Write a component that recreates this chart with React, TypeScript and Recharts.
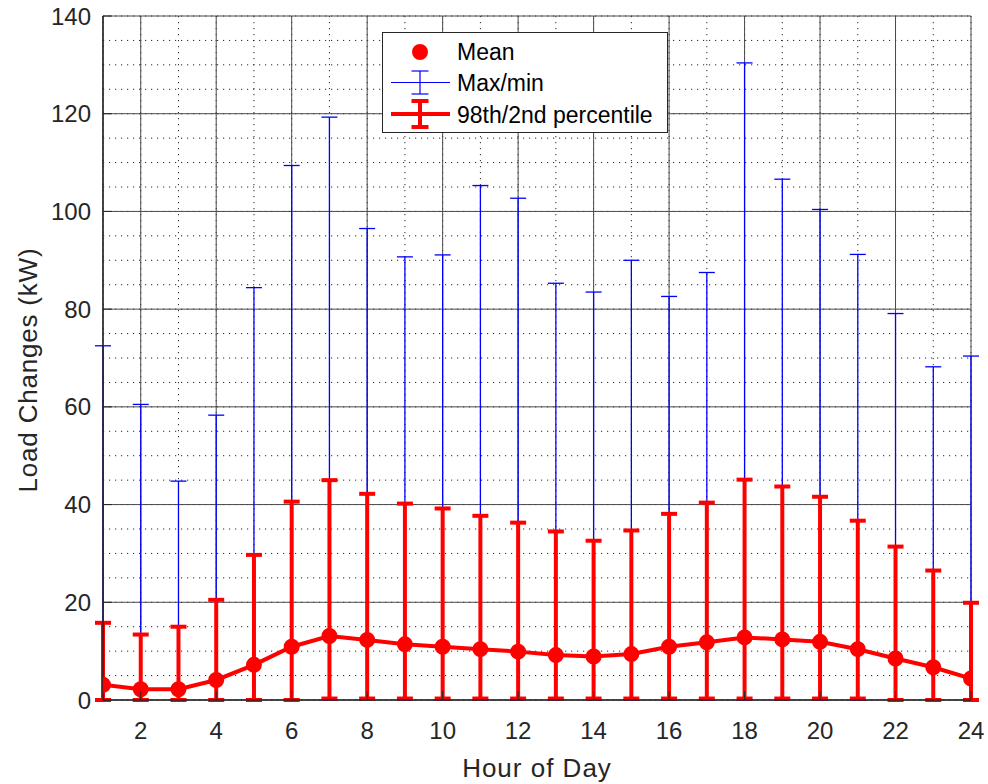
import React from 'react';
import { ComposedChart, Line, XAxis, YAxis, CartesianGrid, ErrorBar, Legend } from 'recharts';

// ---------------- data ----------------
const hours = [1, 2, 3, 4, 5, 6, 7, 8, 9, 10, 11, 12, 13, 14, 15, 16, 17, 18, 19, 20, 21, 22, 23, 24];
const meanVals = [3.1, 2.2, 2.2, 4.1, 7.2, 10.9, 13.1, 12.3, 11.4, 10.9, 10.4, 9.9, 9.2, 8.9, 9.4, 10.9, 11.8, 12.8, 12.4, 11.9, 10.4, 8.5, 6.7, 4.4];
const maxVals = [72.5, 60.5, 44.8, 58.3, 84.4, 109.4, 119.3, 96.5, 90.7, 91.1, 105.3, 102.7, 85.3, 83.5, 90.0, 82.6, 87.5, 130.4, 106.6, 100.4, 91.2, 79.1, 68.2, 70.4];
const minVals = [0, 0, 0, 0, 0, 0, 0, 0, 0, 0, 0, 0, 0, 0, 0, 0, 0, 0, 0, 0, 0, 0, 0, 0];
const p98Vals = [15.8, 13.4, 15.0, 20.5, 29.7, 40.6, 45.0, 42.2, 40.2, 39.2, 37.7, 36.3, 34.5, 32.6, 34.7, 38.1, 40.4, 45.1, 43.7, 41.6, 36.7, 31.4, 26.5, 19.9];
const p2Vals = [0, 0, 0, 0, 0, 0, 0.3, 0.3, 0.3, 0.3, 0.3, 0.3, 0.3, 0.3, 0.3, 0.3, 0.3, 0.3, 0.3, 0.3, 0.3, 0, 0, 0];

const xTicks = [2, 4, 6, 8, 10, 12, 14, 16, 18, 20, 22, 24];
const yTicks = [0, 20, 40, 60, 80, 100, 120, 140];
const xMinorTicks = [1, 1.5, 2, 2.5, 3, 3.5, 4, 4.5, 5, 5.5, 6, 6.5, 7, 7.5, 8, 8.5, 9, 9.5, 10, 10.5, 11, 11.5, 12, 12.5, 13, 13.5, 14, 14.5, 15, 15.5, 16, 16.5, 17, 17.5, 18, 18.5, 19, 19.5, 20, 20.5, 21, 21.5, 22, 22.5, 23, 23.5, 24];
const yMinorTicks = [0, 5, 10, 15, 20, 25, 30, 35, 40, 45, 50, 55, 60, 65, 70, 75, 80, 85, 90, 95, 100, 105, 110, 115, 120, 125, 130, 135, 140];

const legendLabels = ['Mean', 'Max/min', '98th/2nd percentile'];
const xLabel = 'Hour of Day';
const yLabel = 'Load Changes (kW)';

const data = hours.map((h, i) => ({
  hour: h,
  mean: meanVals[i],
  maxMinErr: [meanVals[i] - minVals[i], maxVals[i] - meanVals[i]],
  pctErr: [meanVals[i] - p2Vals[i], p98Vals[i] - meanVals[i]],
}));

// ---------------- styles ----------------
const FONT = '"Liberation Sans", Arial, Helvetica, sans-serif';
const TXT = '#262626';
const AX = '#262626';
const TICK_LEN = 9;
const RED = '#ff0000';
const BLUE = '#0000ff';

const BottomTick = (props: any) => {
  const { x, y, payload } = props;
  return (
    <g>
      <line x1={x} x2={x} y1={y} y2={y - TICK_LEN} stroke={AX} strokeWidth={1} />
      <text x={x} y={y + 39} textAnchor="middle" fill={TXT} fontSize={24} fontFamily={FONT}>
        {payload.value}
      </text>
    </g>
  );
};

const TopTick = (props: any) => {
  const { x, y } = props;
  return <line x1={x} x2={x} y1={y} y2={y + TICK_LEN} stroke={AX} strokeWidth={1} />;
};

const LeftTick = (props: any) => {
  const { x, y, payload } = props;
  return (
    <g>
      <line x1={x} x2={x + TICK_LEN} y1={y} y2={y} stroke={AX} strokeWidth={1} />
      <text x={x - 12} y={y} dy="0.36em" textAnchor="end" fill={TXT} fontSize={24} fontFamily={FONT}>
        {payload.value}
      </text>
    </g>
  );
};

const RightTick = (props: any) => {
  const { x, y } = props;
  return <line x1={x} x2={x - TICK_LEN} y1={y} y2={y} stroke={AX} strokeWidth={1} />;
};

const LegendBox = () => (
  <svg width={286} height={101} style={{ display: 'block' }}>
    <rect x={0.5} y={0.5} width={285} height={100} fill="#ffffff" stroke="#262626" strokeWidth={1} />
    <circle cx={38} cy={20} r={7} fill={RED} stroke={RED} strokeWidth={2} />
    <text x={75} y={20} dy="0.36em" fontSize={23} fontFamily={FONT} fill="#000">{legendLabels[0]}</text>
    <line x1={9} x2={68} y1={50.5} y2={50.5} stroke={BLUE} strokeWidth={1.2} />
    <line x1={38} x2={38} y1={39} y2={62} stroke={BLUE} strokeWidth={1.2} />
    <line x1={29.5} x2={46.5} y1={39} y2={39} stroke={BLUE} strokeWidth={1.2} />
    <line x1={29.5} x2={46.5} y1={62} y2={62} stroke={BLUE} strokeWidth={1.2} />
    <text x={75} y={51} dy="0.36em" fontSize={23} fontFamily={FONT} fill="#000">{legendLabels[1]}</text>
    <line x1={9} x2={68} y1={82} y2={82} stroke={RED} strokeWidth={4} />
    <line x1={38} x2={38} y1={69} y2={95} stroke={RED} strokeWidth={4} />
    <line x1={29.5} x2={46.5} y1={69} y2={69} stroke={RED} strokeWidth={4} />
    <line x1={29.5} x2={46.5} y1={95} y2={95} stroke={RED} strokeWidth={4} />
    <text x={75} y={83} dy="0.36em" fontSize={23} fontFamily={FONT} fill="#000">{legendLabels[2]}</text>
  </svg>
);

export default function App() {
  return (
    <div style={{ position: 'fixed', left: 0, top: 0, width: 988, height: 784, background: '#ffffff', overflow: 'hidden' }}>
      <ComposedChart
        width={988}
        height={784}
        data={data}
        margin={{ top: 16, right: 17, bottom: 0, left: 0 }}
        style={{ background: '#ffffff' }}
      >
        <XAxis xAxisId="minor" dataKey="hour" type="number" domain={[1, 24]} ticks={xMinorTicks} hide allowDataOverflow />
        <YAxis yAxisId="minor" type="number" domain={[0, 140]} ticks={yMinorTicks} hide allowDataOverflow />
        <CartesianGrid
          xAxisId="minor"
          yAxisId="minor"
          stroke="#262626"
          strokeWidth={1}
          strokeDasharray="1.2 4.8"
        />
        <CartesianGrid stroke="#4a4a4a" strokeWidth={1} />

        <XAxis
          dataKey="hour"
          type="number"
          domain={[1, 24]}
          ticks={xTicks}
          allowDataOverflow
          height={84}
          tickSize={0}
          tickMargin={0}
          tickLine={false}
          tick={<BottomTick />}
          axisLine={{ stroke: AX, strokeWidth: 1.5 }}
          label={{
            content: (p: any) => {
              const vb = p.viewBox;
              return (
                <text x={vb.x + vb.width / 2} y={vb.y + 77} textAnchor="middle" fill={TXT} fontSize={26} letterSpacing={1} fontFamily={FONT}>
                  {xLabel}
                </text>
              );
            },
          }}
        />
        <XAxis
          xAxisId="top"
          orientation="top"
          dataKey="hour"
          type="number"
          domain={[1, 24]}
          ticks={xTicks}
          allowDataOverflow
          height={0}
          tickSize={0}
          tickMargin={0}
          tickLine={false}
          tick={<TopTick />}
          axisLine={{ stroke: AX, strokeWidth: 1.5 }}
        />
        <YAxis
          type="number"
          domain={[0, 140]}
          ticks={yTicks}
          allowDataOverflow
          width={103}
          tickSize={0}
          tickMargin={0}
          tickLine={false}
          tick={<LeftTick />}
          axisLine={{ stroke: AX, strokeWidth: 1.5 }}
          label={{
            content: (p: any) => {
              const vb = p.viewBox;
              const cx = vb.x + 37;
              const cy = vb.y + vb.height / 2 + 12;
              return (
                <text x={cx} y={cy} transform={`rotate(-90 ${cx} ${cy})`} textAnchor="middle" fill={TXT} fontSize={26} letterSpacing={0.8} fontFamily={FONT}>
                  {yLabel}
                </text>
              );
            },
          }}
        />
        <YAxis
          yAxisId="right"
          orientation="right"
          type="number"
          domain={[0, 140]}
          ticks={yTicks}
          allowDataOverflow
          width={0}
          tickSize={0}
          tickMargin={0}
          tickLine={false}
          tick={<RightTick />}
          axisLine={{ stroke: AX, strokeWidth: 1.5 }}
        />

        <Line
          dataKey="mean"
          stroke="none"
          dot={false}
          activeDot={false}
          isAnimationActive={false}
          legendType="none"
        >
          <ErrorBar dataKey="maxMinErr" stroke={BLUE} strokeWidth={1.3} width={8} direction="y" />
        </Line>
        <Line
          dataKey="mean"
          stroke={RED}
          strokeWidth={4}
          dot={{ r: 7, fill: RED, stroke: RED, strokeWidth: 2 }}
          activeDot={false}
          isAnimationActive={false}
        >
          <ErrorBar dataKey="pctErr" stroke={RED} strokeWidth={4} width={8} direction="y" />
        </Line>

        <Legend
          layout="horizontal"
          verticalAlign="middle"
          align="center"
          content={() => <LegendBox />}
          wrapperStyle={{ left: 382, top: 32, width: 286, height: 101 }}
        />
      </ComposedChart>
    </div>
  );
}
